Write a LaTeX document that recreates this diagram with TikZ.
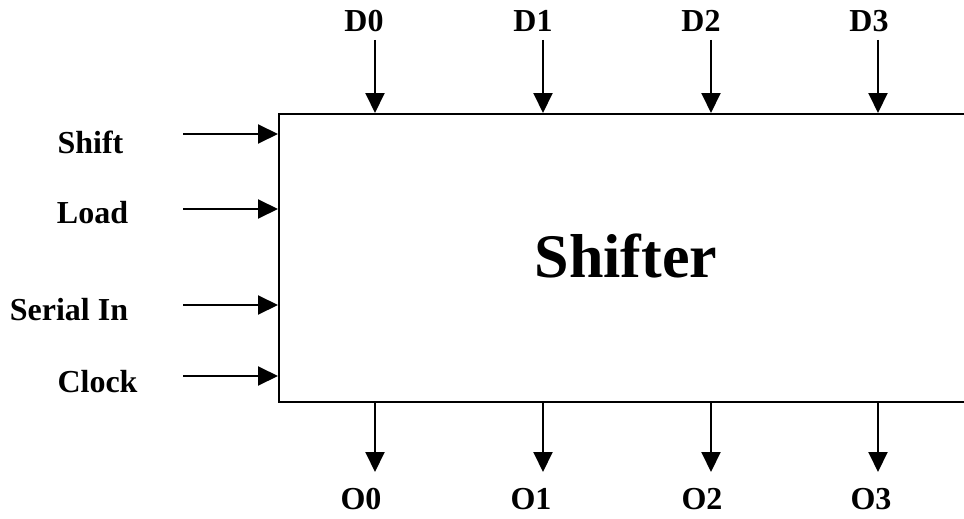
\documentclass[tikz,border=0pt]{standalone}
\usepackage{fontspec}
\setmainfont{Liberation Serif}
\usetikzlibrary{arrows.meta}
\begin{document}
\begin{tikzpicture}[x=1pt,y=-1pt,
  sig/.style={line width=2pt,-{Triangle[length=20pt,width=19pt]}},
  lbl/.style={font=\fontsize{32}{38}\selectfont\bfseries,inner sep=0pt,anchor=base},
  block/.style={draw,line width=2.2pt,inner sep=0pt,anchor=north west}]
\useasboundingbox (0,0) rectangle (964,519);

% shifter body (its right side runs past the page edge)
\node[block,minimum width=700pt,minimum height=288pt] (box) at (278,113) {};
\node[font=\fontsize{62}{70}\selectfont\bfseries,inner sep=0pt,anchor=base] (title) at (626,277) {Shifter};

% control inputs
\node[lbl] (shift) at (90.5,153) {Shift};
\node[lbl] (load) at (92.5,223) {Load};
\node[lbl] (serial) at (69,320) {Serial In};
\node[lbl] (clock) at (97.5,392) {Clock};
\foreach \n/\y in {shift/134,load/209,serial/305,clock/376}{
  \coordinate (\n-s) at (183,\y);
  \draw[sig] (\n-s) -- (\n-s -| box.west);
}

% parallel data inputs
\foreach \i/\xl/\xa in {0/364/375,1/533/543,2/701/711,3/869/878}{
  \node[lbl] (d\i) at (\xl,32) {D\i};
  \coordinate (d\i-s) at (\xa,40);
  \draw[sig] (d\i-s) -- (d\i-s |- box.north);
}

% parallel outputs
\foreach \i/\xl/\xa in {0/361/375,1/531/543,2/702/711,3/871/878}{
  \node[lbl] (o\i) at (\xl,509) {O\i};
  \coordinate (o\i-e) at (\xa,472);
  \draw[sig] (o\i-e |- box.south) -- (o\i-e);
}
\end{tikzpicture}
\end{document}
